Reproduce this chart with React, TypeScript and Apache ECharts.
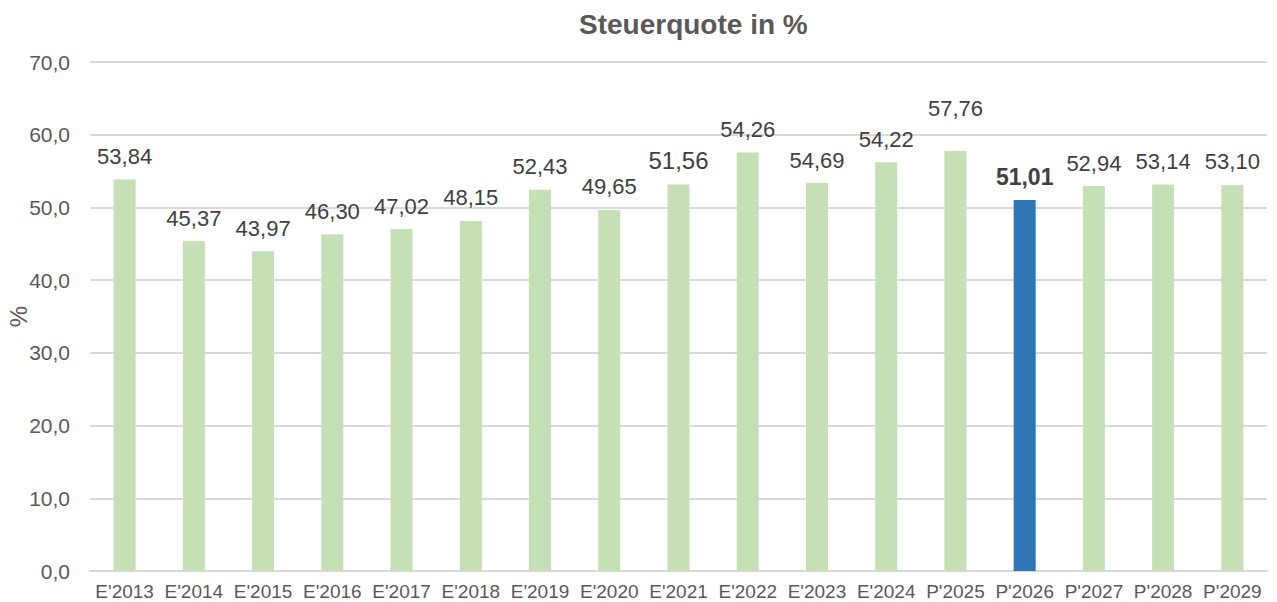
import React, { useEffect, useRef } from "react";
import * as echarts from "echarts";

const categories = [
  "E'2013", "E'2014", "E'2015", "E'2016", "E'2017", "E'2018", "E'2019", "E'2020",
  "E'2021", "E'2022", "E'2023", "E'2024", "P'2025", "P'2026", "P'2027", "P'2028", "P'2029",
];
const barValues = [
  53.84, 45.37, 43.97, 46.3, 47.02, 48.15, 52.43, 49.65,
  53.15, 57.55, 53.35, 56.2, 57.76, 51.01, 52.94, 53.14, 53.1,
];
const labelTexts = [
  "53,84", "45,37", "43,97", "46,30", "47,02", "48,15", "52,43", "49,65",
  "51,56", "54,26", "54,69", "54,22", "57,76", "51,01", "52,94", "53,14", "53,10",
];
const highlightIndex = 13;
const yTicks = { min: 0, max: 70, interval: 10 };

export default function App() {
  const ref = useRef<HTMLDivElement>(null);
  useEffect(() => {
    if (!ref.current) return;
    const chart = echarts.init(ref.current, null, { renderer: "svg" });
    const font = "Arial, 'Liberation Sans', sans-serif";
    const data = barValues.map((v, i) => {
      const item: any = { value: v };
      if (i === highlightIndex) {
        item.itemStyle = { color: "#2e75b6" };
        item.label = { fontWeight: "bold", fontSize: 23 };
      }
      if (i === 8) item.label = { fontSize: 24 };
      if (i === 12) item.label = { offset: [0, -20] };
      return item;
    });
    chart.setOption({
      animation: false,
      backgroundColor: "#ffffff",
      title: {
        text: "Steuerquote in %",
        left: 574,
        top: 5,
        textStyle: { fontFamily: font, fontSize: 28, fontWeight: "bold", color: "#595959" },
      },
      grid: {
        left: 90,
        right: 10,
        top: 62,
        bottom: 31,
        containLabel: false,
        outerBoundsMode: "none",
      },
      xAxis: {
        type: "category",
        data: categories,
        axisTick: { show: false },
        axisLine: { lineStyle: { color: "#d9d9d9", width: 2 } },
        axisLabel: { color: "#595959", fontFamily: font, fontSize: 19, margin: 11, interval: 0 },
      },
      yAxis: {
        type: "value",
        min: yTicks.min,
        max: yTicks.max,
        interval: yTicks.interval,
        name: "%",
        nameLocation: "middle",
        nameGap: 60,
        nameMoveOverlap: false,
        nameTextStyle: { color: "#595959", fontFamily: font, fontSize: 24 },
        axisLine: { show: false },
        axisTick: { show: false },
        splitLine: { lineStyle: { color: "#d9d9d9", width: 2 } },
        axisLabel: {
          color: "#595959",
          fontFamily: font,
          fontSize: 21,
          margin: 20,
          formatter: (v: number) => v.toFixed(1).replace(".", ","),
        },
      },
      series: [
        {
          type: "bar",
          data,
          barWidth: 22,
          itemStyle: { color: "#c5e0b4" },
          label: {
            show: true,
            position: "top",
            distance: 12,
            color: "#404040",
            fontFamily: font,
            fontSize: 22,
            formatter: (p: any) => labelTexts[p.dataIndex],
          },
        },
      ],
    });
    return () => chart.dispose();
  }, []);
  return (
    <div
      ref={ref}
      style={{ position: "fixed", left: 0, top: 0, width: 1277, height: 602, background: "#fff" }}
    />
  );
}
